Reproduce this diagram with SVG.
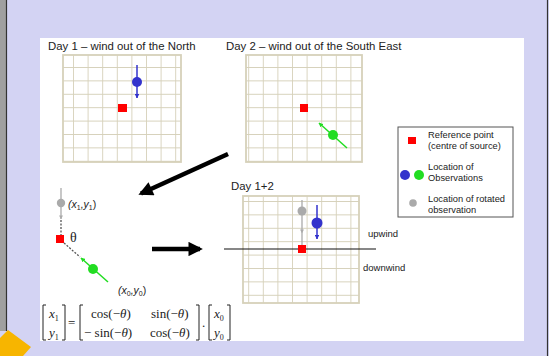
<svg xmlns="http://www.w3.org/2000/svg" width="549" height="356" viewBox="0 0 549 356">
<defs>
<style>
.sans{font-family:"Liberation Sans",Arial,sans-serif;fill:#222}
.serif{font-family:"Liberation Serif","Times New Roman",serif;fill:#222}
.ref{fill:#ff0000}
</style>
<pattern id="gp" x="0" y="0" width="14.6" height="13.4" patternUnits="userSpaceOnUse"><path d="M0 0H14.6M0 0V13.4" fill="none" stroke="#d6d1ba" stroke-width="1.8"/></pattern>
<marker id="ab" viewBox="0 0 10 10" refX="9" refY="5" markerWidth="3" markerHeight="3" orient="auto"><path d="M0 0L10 5L0 10Z" fill="#3333cc"/></marker>
<marker id="ag" viewBox="0 0 10 10" refX="9" refY="5" markerWidth="3" markerHeight="3" orient="auto"><path d="M0 0L10 5L0 10Z" fill="#22dd22"/></marker>
<marker id="agr" viewBox="0 0 10 10" refX="9" refY="5" markerWidth="3" markerHeight="3" orient="auto"><path d="M0 0L10 5L0 10Z" fill="#aaaaaa"/></marker>
<marker id="ak" viewBox="0 0 10 10" refX="8" refY="5" markerWidth="3.6" markerHeight="3.2" orient="auto"><path d="M0 0L10 5L0 10Z" fill="#000"/></marker>
</defs>
<rect width="549" height="356" fill="#d3d3f3"/>
<rect x="0" y="0" width="6" height="331" fill="#a0a0a0"/>
<line x1="6.5" y1="0" x2="6.5" y2="331" stroke="#333" stroke-width="1.2"/>
<line x1="547.5" y1="0" x2="547.5" y2="356" stroke="#333" stroke-width="1.2"/>
<polygon points="0,338 8,330 31,347 23,356 0,356" fill="#f7b500"/>
<rect x="40" y="38" width="484" height="303" fill="#ffffff"/>

<g id="day1">
<text class="sans" x="48" y="50" font-size="11.4">Day 1 – wind out of the North</text>
<rect x="63" y="55" width="118" height="107" fill="url(#gp)" stroke="#d6d1ba" stroke-width="1.8"/>
<rect class="ref" x="118" y="104" width="9" height="8"/>
<line x1="137" y1="65" x2="137" y2="98" stroke="#3333cc" stroke-width="1.5" marker-end="url(#ab)"/>
<circle cx="137" cy="82" r="5" fill="#3333cc"/>
</g>

<g id="day2">
<text class="sans" x="226" y="50" font-size="11.4">Day 2 – wind out of the South East</text>
<rect x="246" y="55" width="116" height="107" fill="url(#gp)" stroke="#d6d1ba" stroke-width="1.8"/>
<rect class="ref" x="300" y="104" width="8" height="8"/>
<line x1="347" y1="148" x2="319" y2="123" stroke="#22dd22" stroke-width="1.5" marker-end="url(#ag)"/>
<circle cx="333" cy="135" r="5" fill="#22dd22"/>
</g>

<g id="legend">
<rect x="398" y="127" width="115" height="90" fill="#fff" stroke="#555" stroke-width="1"/>
<rect class="ref" x="408" y="137" width="8" height="7"/>
<text class="sans" x="428" y="138" font-size="9.3">Reference point</text>
<text class="sans" x="428" y="149" font-size="9.3">(centre of source)</text>
<circle cx="405" cy="175" r="5" fill="#3333cc"/>
<circle cx="419" cy="175" r="5" fill="#22dd22"/>
<text class="sans" x="428" y="170" font-size="9.3">Location of</text>
<text class="sans" x="428" y="181" font-size="9.3">Observations</text>
<circle cx="413" cy="203" r="3.8" fill="#aaaaaa"/>
<text class="sans" x="428" y="202" font-size="9.3">Location of rotated</text>
<text class="sans" x="428" y="213" font-size="9.3">observation</text>
</g>

<g id="rotation">
<line x1="61" y1="188" x2="61" y2="219" stroke="#aaaaaa" stroke-width="1.3" marker-end="url(#agr)"/>
<line x1="61" y1="220" x2="61" y2="235" stroke="#555" stroke-width="1.3" stroke-dasharray="2,1.5"/>
<circle cx="61" cy="203" r="4.2" fill="#aaaaaa"/>
<text class="sans" x="68" y="208" font-size="10.5"><tspan font-style="italic">(x</tspan><tspan font-size="7" dy="2">1</tspan><tspan dy="-2" font-style="italic">,y</tspan><tspan font-size="7" dy="2">1</tspan><tspan dy="-2">)</tspan></text>
<line x1="64" y1="243" x2="80" y2="257" stroke="#555" stroke-width="1.3" stroke-dasharray="2,1.5"/>
<line x1="108" y1="282" x2="81" y2="258" stroke="#22dd22" stroke-width="1.5" marker-end="url(#ag)"/>
<circle cx="93" cy="269" r="5" fill="#22dd22"/>
<rect class="ref" x="56" y="235" width="8" height="8"/>
<text class="serif" x="70" y="242" font-size="14">θ</text>
<text class="sans" x="118" y="294" font-size="10.5"><tspan font-style="italic">(x</tspan><tspan font-size="7" dy="2">0</tspan><tspan dy="-2" font-style="italic">,y</tspan><tspan font-size="7" dy="2">0</tspan><tspan dy="-2">)</tspan></text>
</g>

<g id="equation" class="serif">
<path d="M46 305H43V340H46" fill="none" stroke="#222" stroke-width="1"/>
<text x="49" y="318" font-size="13" font-style="italic">x<tspan font-size="8" dy="3" font-style="normal">1</tspan></text>
<text x="49" y="337" font-size="13" font-style="italic">y<tspan font-size="8" dy="3" font-style="normal">1</tspan></text>
<path d="M62 305H65V340H62" fill="none" stroke="#222" stroke-width="1"/>
<text x="68" y="327" font-size="13">=</text>
<path d="M83 305H80V340H83" fill="none" stroke="#222" stroke-width="1"/>
<text x="91" y="318" font-size="13">cos(−<tspan font-style="italic">θ</tspan>)</text>
<text x="151" y="318" font-size="13">sin(−<tspan font-style="italic">θ</tspan>)</text>
<text x="84" y="337" font-size="13">− sin(−<tspan font-style="italic">θ</tspan>)</text>
<text x="150" y="337" font-size="13">cos(−<tspan font-style="italic">θ</tspan>)</text>
<path d="M196 305H199V340H196" fill="none" stroke="#222" stroke-width="1"/>
<text x="202" y="327" font-size="13">.</text>
<path d="M212 305H209V340H212" fill="none" stroke="#222" stroke-width="1"/>
<text x="214" y="318" font-size="13" font-style="italic">x<tspan font-size="8" dy="3" font-style="normal">0</tspan></text>
<text x="214" y="337" font-size="13" font-style="italic">y<tspan font-size="8" dy="3" font-style="normal">0</tspan></text>
<path d="M227 305H230V340H227" fill="none" stroke="#222" stroke-width="1"/>
</g>

<g id="day12">
<text class="sans" x="231" y="190" font-size="11.4">Day 1+2</text>
<rect x="243" y="196" width="116" height="107" fill="url(#gp)" stroke="#d6d1ba" stroke-width="1.8"/>
<line x1="224" y1="249" x2="376" y2="249" stroke="#111" stroke-width="1.2"/>
<line x1="302" y1="200" x2="302" y2="233" stroke="#aaaaaa" stroke-width="1.3" marker-end="url(#agr)"/>
<line x1="302" y1="233" x2="302" y2="246" stroke="#aaaaaa" stroke-width="1.3"/>
<circle cx="302" cy="211" r="4.5" fill="#aaaaaa"/>
<line x1="317" y1="205" x2="317" y2="239" stroke="#3333cc" stroke-width="1.5" marker-end="url(#ab)"/>
<circle cx="317" cy="223" r="5.5" fill="#3333cc"/>
<rect class="ref" x="298" y="245" width="8" height="8"/>
<text class="sans" x="368" y="237" font-size="9.5">upwind</text>
<text class="sans" x="363" y="271" font-size="9.5">downwind</text>
</g>

<g id="connectors">
<line x1="228" y1="154" x2="141" y2="193.5" stroke="#000" stroke-width="4.5" marker-end="url(#ak)"/>
<line x1="152" y1="249" x2="200" y2="249" stroke="#000" stroke-width="4.5" marker-end="url(#ak)"/>
</g>
</svg>
